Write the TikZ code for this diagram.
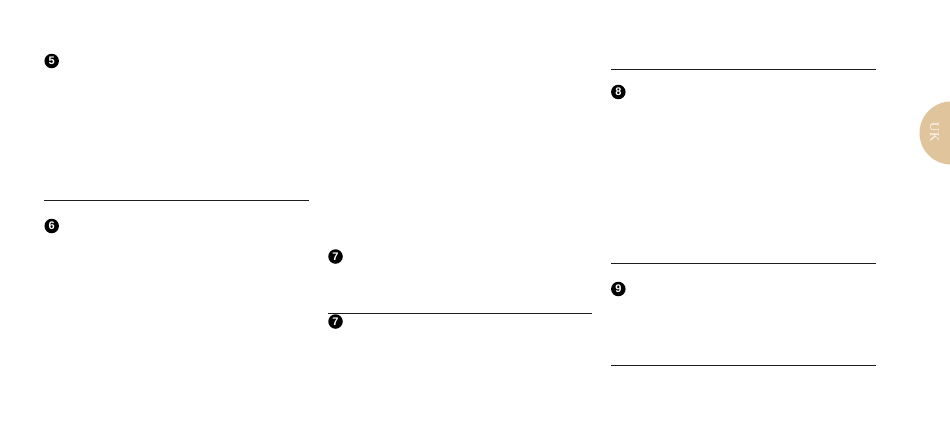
\documentclass[tikz,border=0pt]{standalone}
\usepackage{fontspec}
\setmainfont{Liberation Serif}
\setsansfont{Liberation Sans}
\usepackage{tikz}
\usetikzlibrary{calc}
\definecolor{tabsand}{HTML}{DFC49C}
\definecolor{rulegray}{HTML}{1E1E1E}
\tikzset{
	badge/.style={circle, fill=black, inner sep=0pt, minimum size=14.5pt, text=white, font=\sffamily\bfseries\fontsize{11}{11}\selectfont},
	sectionrule/.style={draw=rulegray, line width=1pt}
}

\begin{document}
\begin{tikzpicture}[x=1pt, y=-1pt]
		%%%%% START %%%%%
		\useasboundingbox (0, 0) rectangle (950, 442);
		\clip (0, 0) rectangle (950, 442);
		
		% left column
		\node[badge] (badgefive) at (51.7, 61) {5};
		\draw[sectionrule] (44, 200.3) -- (308.5, 200.3);
		\node[badge] (badgesix) at (51.7, 226) {6};
		
		% middle column
		\node[badge] (badgesevena) at (335.5, 256.5) {7};
		\draw[sectionrule] (328, 313) -- (592, 313);
		\node[badge] (badgesevenb) at (335.5, 321.5) {7};
		
		% right column
		\draw[sectionrule] (611, 69.3) -- (875.5, 69.3);
		\node[badge] (badgeeight) at (618.3, 92) {8};
		\draw[sectionrule] (611, 263.3) -- (875.5, 263.3);
		\node[badge] (badgenine) at (618.3, 289) {9};
		\draw[sectionrule] (611, 365.3) -- (875.5, 365.3);
		
		% language tab
		\fill[tabsand] (951, 133) circle (31.5);
		\node[text=white!92!tabsand, rotate=-90, font=\fontsize{13}{13}\selectfont] (tablabel) at (934.5, 132.5) {U\kern0.8pt K};
		%%%%% END %%%%%
\end{tikzpicture}
\end{document}
